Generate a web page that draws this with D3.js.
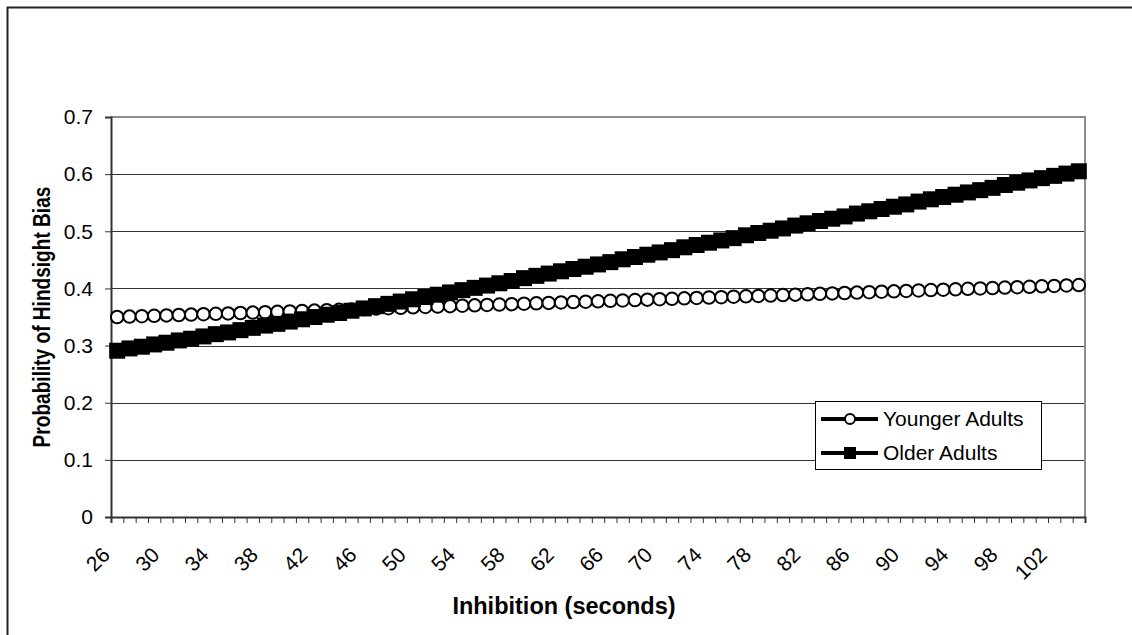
<!DOCTYPE html>
<html>
<head>
<meta charset="utf-8">
<script src="https://cdn.jsdelivr.net/npm/d3@7"></script>
<style>
  body { margin: 0; background: #fff; }
  svg { display: block; font-family: "Liberation Sans", Arial, sans-serif; }
</style>
</head>
<body>
<div class="chart"></div>
<script>
(function() {
  'use strict';

  const WIDTH = 1132;
  const HEIGHT = 635;

  // Inhibition (seconds), one category per second
  const SECONDS = [
    26, 27, 28, 29, 30, 31, 32, 33, 34, 35, 36, 37, 38, 39, 40, 41, 42, 43, 44, 45,
    46, 47, 48, 49, 50, 51, 52, 53, 54, 55, 56, 57, 58, 59, 60, 61, 62, 63, 64, 65,
    66, 67, 68, 69, 70, 71, 72, 73, 74, 75, 76, 77, 78, 79, 80, 81, 82, 83, 84, 85,
    86, 87, 88, 89, 90, 91, 92, 93, 94, 95, 96, 97, 98, 99, 100, 101, 102, 103, 104
  ];

  const YOUNGER = [
    0.3500, 0.3507, 0.3514, 0.3521, 0.3528, 0.3535, 0.3542, 0.3549, 0.3556, 0.3563,
    0.3570, 0.3577, 0.3584, 0.3591, 0.3598, 0.3605, 0.3612, 0.3619, 0.3626, 0.3633,
    0.3640, 0.3647, 0.3654, 0.3661, 0.3669, 0.3676, 0.3683, 0.3690, 0.3697, 0.3704,
    0.3711, 0.3718, 0.3725, 0.3733, 0.3740, 0.3747, 0.3754, 0.3761, 0.3768, 0.3775,
    0.3783, 0.3790, 0.3797, 0.3804, 0.3811, 0.3819, 0.3826, 0.3833, 0.3840, 0.3847,
    0.3855, 0.3862, 0.3869, 0.3876, 0.3884, 0.3891, 0.3898, 0.3905, 0.3913, 0.3920,
    0.3927, 0.3934, 0.3942, 0.3949, 0.3956, 0.3964, 0.3971, 0.3978, 0.3985, 0.3993,
    0.4000, 0.4007, 0.4015, 0.4022, 0.4029, 0.4037, 0.4044, 0.4052, 0.4059
  ];

  const OLDER = [
    0.291, 0.295, 0.298, 0.302, 0.305, 0.309, 0.312, 0.316, 0.320, 0.323,
    0.327, 0.331, 0.335, 0.338, 0.342, 0.346, 0.350, 0.354, 0.357, 0.361,
    0.365, 0.369, 0.373, 0.377, 0.381, 0.385, 0.389, 0.393, 0.397, 0.401,
    0.405, 0.409, 0.413, 0.418, 0.422, 0.426, 0.430, 0.434, 0.438, 0.442,
    0.446, 0.451, 0.455, 0.459, 0.463, 0.467, 0.472, 0.476, 0.480, 0.484,
    0.488, 0.493, 0.497, 0.501, 0.505, 0.510, 0.514, 0.518, 0.522, 0.526,
    0.531, 0.535, 0.539, 0.543, 0.547, 0.552, 0.556, 0.560, 0.564, 0.568,
    0.572, 0.576, 0.581, 0.585, 0.589, 0.593, 0.597, 0.601, 0.605
  ];

  const Y_TICKS = [0, 0.1, 0.2, 0.3, 0.4, 0.5, 0.6, 0.7];
  const X_LABELS = [26, 30, 34, 38, 42, 46, 50, 54, 58, 62, 66, 70, 74, 78, 82, 86, 90, 94, 98, 102];

  const SERIES = [
    {name: 'Younger Adults', values: YOUNGER, marker: 'circle'},
    {name: 'Older Adults', values: OLDER, marker: 'square'}
  ];

  // plot area
  const P = {left: 111, right: 1085, top: 117, bottom: 517};

  const svg = d3.select('.chart')
    .append('svg')
    .attr('width', WIDTH)
    .attr('height', HEIGHT);

  // chart area frame (runs off the picture to the right and bottom)
  svg.append('rect')
    .attr('x', 7.5).attr('y', 7.5)
    .attr('width', WIDTH + 20).attr('height', HEIGHT + 20)
    .attr('fill', '#fff')
    .attr('stroke', '#222')
    .attr('stroke-width', 2);

  const x = d3.scaleBand().domain(SECONDS).range([P.left, P.right]);
  const xTick = d3.scaleLinear().domain([0, SECONDS.length]).range([P.left, P.right]);
  const y = d3.scaleLinear().domain([0, 0.7]).range([P.bottom, P.top]);

  // gridlines
  svg.append('g')
    .selectAll('line')
    .data(Y_TICKS.slice(1))
    .join('line')
    .attr('x1', P.left).attr('x2', P.right)
    .attr('y1', d => Math.round(y(d)) + 0.5)
    .attr('y2', d => Math.round(y(d)) + 0.5)
    .attr('stroke', '#333')
    .attr('stroke-width', 1);

  // plot area border (right and top, grey)
  svg.append('path')
    .attr('d', 'M' + P.left + ',' + P.top + 'H' + P.right + 'V' + P.bottom)
    .attr('fill', 'none')
    .attr('stroke', '#8c8c8c')
    .attr('stroke-width', 2);

  // y axis
  const yAxis = svg.append('g')
    .attr('transform', 'translate(' + P.left + ',0)')
    .call(d3.axisLeft(y).tickValues(Y_TICKS).tickSize(6).tickPadding(12)
      .tickFormat(d => d === 0 ? '0' : d3.format('.1f')(d)));
  yAxis.select('.domain').attr('stroke', '#333').attr('stroke-width', 2);
  yAxis.selectAll('.tick line').attr('stroke', '#333');
  yAxis.selectAll('.tick text')
    .attr('font-size', 21)
    .attr('fill', '#000')
    .attr('font-family', '"Liberation Sans", Arial, sans-serif');

  // x axis: ticks between categories
  const xAxis = svg.append('g')
    .attr('transform', 'translate(0,' + P.bottom + ')')
    .call(d3.axisBottom(xTick).tickValues(d3.range(SECONDS.length + 1)).tickSize(6).tickFormat(''));
  xAxis.select('.domain').attr('stroke', '#333').attr('stroke-width', 2);
  xAxis.selectAll('.tick line').attr('stroke', '#333');

  // rotated category labels
  svg.append('g')
    .selectAll('text')
    .data(X_LABELS)
    .join('text')
    .attr('transform', d => 'translate(' + (x(d) + x.bandwidth() / 2 - 11) + ',551) rotate(-45)')
    .attr('text-anchor', 'end')
    .attr('dy', '0.35em')
    .attr('font-size', 21)
    .text(d => d);

  // axis titles (the y title is a little condensed along its length)
  svg.append('text')
    .attr('transform', 'translate(50,' + ((P.top + P.bottom) / 2) + ') rotate(-90) scale(0.83,1)')
    .attr('text-anchor', 'middle')
    .attr('font-size', 23)
    .attr('font-weight', 'bold')
    .text('Probability of Hindsight Bias');

  svg.append('text')
    .attr('x', 564)
    .attr('y', 614)
    .attr('text-anchor', 'middle')
    .attr('font-size', 23.5)
    .attr('font-weight', 'bold')
    .text('Inhibition (seconds)');

  // series
  const line = d3.line()
    .x((d, i) => x(SECONDS[i]) + x.bandwidth() / 2)
    .y(d => y(d));

  function drawMarker(sel, kind, size) {
    if (kind === 'circle') {
      sel.append('circle')
        .attr('r', size / 2)
        .attr('fill', '#fff')
        .attr('stroke', '#000')
        .attr('stroke-width', 2);
    } else {
      sel.append('rect')
        .attr('x', -size / 2).attr('y', -size / 2)
        .attr('width', size).attr('height', size)
        .attr('fill', '#000');
    }
  }

  for (let i = 0; i < SERIES.length; ++i) {
    const s = SERIES[i];
    const g = svg.append('g').attr('class', 'series');
    g.append('path')
      .attr('d', line(s.values))
      .attr('fill', 'none')
      .attr('stroke', '#000')
      .attr('stroke-width', 4);
    g.selectAll('g')
      .data(s.values)
      .join('g')
      .attr('transform', (d, j) => 'translate(' + (x(SECONDS[j]) + x.bandwidth() / 2) + ',' + y(d) + ')')
      .each(function() { drawMarker(d3.select(this), s.marker, s.marker === 'circle' ? 12.5 : 16); });
  }

  // legend
  const legend = svg.append('g').attr('transform', 'translate(815,401)');
  legend.append('rect')
    .attr('x', 0.5).attr('y', 0.5)
    .attr('width', 226).attr('height', 68)
    .attr('fill', '#fff')
    .attr('stroke', '#000')
    .attr('stroke-width', 1);
  for (let i = 0; i < SERIES.length; ++i) {
    const row = legend.append('g').attr('transform', 'translate(0,' + (18 + i * 34) + ')');
    row.append('line')
      .attr('x1', 6).attr('x2', 63)
      .attr('stroke', '#000')
      .attr('stroke-width', 4);
    const m = row.append('g').attr('transform', 'translate(35,0)');
    drawMarker(m, SERIES[i].marker, SERIES[i].marker === 'circle' ? 10 : 12);
    row.append('text')
      .attr('x', 68)
      .attr('dy', '0.35em')
      .attr('font-size', 21)
      .text(SERIES[i].name);
  }
})();
</script>
</body>
</html>
